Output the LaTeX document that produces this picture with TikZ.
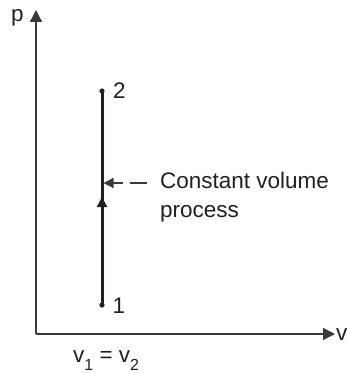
\documentclass[tikz,border=0pt]{standalone}
\usepackage{fontspec}
\setmainfont{Liberation Sans}
\usetikzlibrary{arrows.meta}
\definecolor{ink}{HTML}{231F20}
\definecolor{axisgray}{HTML}{3A3A3A}
\tikzset{
  axisline/.style={draw=axisgray, line width=1.3pt},
  procline/.style={draw=ink, line width=3pt},
  lbl/.style={inner sep=0pt, text=ink, font=\fontsize{22.5}{29}\selectfont},
  bigtip/.style={-{Triangle[length=12pt,width=12pt]}},
  smalltip/.style={-{Triangle[length=10pt,width=10pt]}}
}
\begin{document}
\begin{tikzpicture}[x=1pt,y=-1pt]
\useasboundingbox (0,0) rectangle (347,374);
\coordinate (O) at (36,334);
\coordinate (ytop) at (36,10);
\coordinate (xend) at (335,334);
\coordinate (n2) at (102,91);
\coordinate (n1) at (102,305);
\coordinate (mid) at (102,197);
\coordinate (ptip) at (103.5,183);
\coordinate (pstart) at (123,183);
\coordinate (da) at (130,183);
\coordinate (db) at (147,183);
% axes
\draw[axisline, bigtip] (O) -- (ytop);
\draw[axisline, bigtip] (O) -- (xend);
% process
\draw[procline] (n1) -- (n2);
\draw[procline, -{Triangle[length=10pt,width=10pt]}] (n1) -- (mid);
\fill[ink] (n1) circle (2.6);
\fill[ink] (n2) circle (2.6);
% pointer
\draw[axisline, line width=1.2pt, smalltip] (pstart) -- (ptip);
\draw[axisline, line width=1.2pt] (da) -- (db);
% labels
\node[lbl, anchor=base west] (lp) at (11,21.5) {p};
\node[lbl, anchor=base west] (lv) at (336,340) {v};
\node[lbl] (l2) at (119.5,90.5) {2};
\node[lbl] (l1) at (119,305.5) {1};
\node[lbl, anchor=base west] (ltext1) at (160,188) {Constant volume};
\node[lbl, anchor=base west] (ltext2) at (160,217) {process};
\node[lbl, anchor=base west] (lv12) at (73,362) {v\raisebox{-8pt}{\fontsize{16}{16}\selectfont 1} = v\raisebox{-8pt}{\fontsize{16}{16}\selectfont 2}};
\end{tikzpicture}
\end{document}
